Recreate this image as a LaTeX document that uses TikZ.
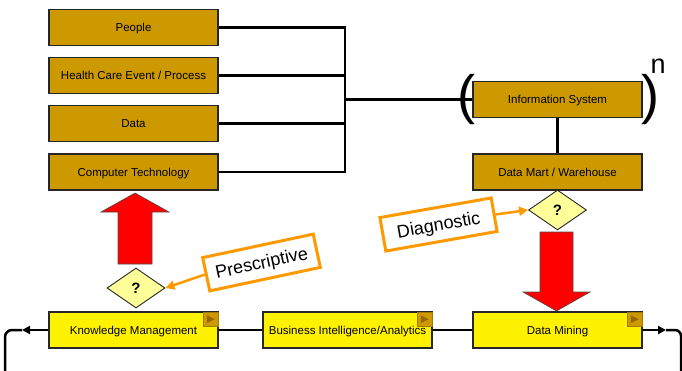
\documentclass[tikz,border=0pt]{standalone}
\usepackage{fontspec}
\setmainfont{Liberation Sans}
\usetikzlibrary{arrows.meta,shapes.geometric,calc}
\definecolor{gold}{HTML}{CC9900}
\definecolor{darkgold}{HTML}{996600}
\definecolor{lightyellow}{HTML}{FFFF99}
\definecolor{tagorange}{HTML}{FF9900}
\tikzset{
  goldbox/.style={draw=black!85, line width=1.2pt, fill=gold, minimum width=169pt,
    minimum height=36pt, inner sep=0pt, text height=8.2pt, text depth=0pt,
    font=\fontsize{11.5}{13}\selectfont},
  yellowbox/.style={goldbox, fill=yellow},
  decision/.style={diamond, draw=black!85, line width=0.9pt, fill=lightyellow,
    minimum width=58pt, minimum height=40pt, inner sep=0pt,
    font=\fontsize{15}{16}\selectfont\bfseries},
  conn/.style={draw=black, line width=2.5pt},
  tag/.style={draw=tagorange, line width=3pt, fill=white, minimum width=113pt,
    minimum height=34pt, inner sep=0pt, text height=12.9pt, text depth=0pt,
    font=\fontsize{18}{20}\selectfont},
  tagarrow/.style={draw=tagorange, line width=2.5pt,
    -{Triangle[length=9pt,width=9pt]}},
  blockarrow/.style={fill=red, draw=black!70, line width=0.6pt},
  marker/.style={fill=gold, draw=gold!80!black, line width=0.4pt,
    minimum width=15pt, minimum height=14pt, inner sep=0pt, anchor=north east},
}
\newcommand{\playmark}[1]{%
  \fill[darkgold] ($(#1.center)+(-3.5,4)$) -- ($(#1.center)+(4.5,0)$) -- ($(#1.center)+(-3.5,-4)$) -- cycle;}
\begin{document}
\begin{tikzpicture}[x=1pt,y=-1pt]
\useasboundingbox (0,0) rectangle (682,370);

% components
\node[goldbox] (people) at (133.5,27.5) {People};
\node[goldbox] (event)  at (133.5,75.5) {Health Care Event / Process};
\node[goldbox] (data)   at (133.5,123.5) {Data};
\node[goldbox] (tech)   at (133.5,172) {Computer Technology};

% information system
\node[goldbox] (infosys) at (557.5,99.5) {Information System};
\node[goldbox] (mart)    at (557.5,172) {Data Mart / Warehouse};
\node[font=\fontsize{54}{54}\selectfont, inner sep=0pt] (lparen) at (466,100) {(};
\node[font=\fontsize{54}{54}\selectfont, inner sep=0pt] (rparen) at (650,100) {)};
\node[font=\fontsize{27}{27}\selectfont, inner sep=0pt] (power) at (658,66) {n};

% fork into the information system
\coordinate (fork) at (345,99.5);
\draw[conn] (people.east) -| (fork);
\draw[conn] (event.east) -| (fork);
\draw[conn] (data.east) -| (fork);
\draw[conn] (tech.east) -| (fork);
\draw[conn] (fork) -- (infosys.west);
\draw[conn] (infosys.south) -- (mart.north);

% analytics chain
\node[yellowbox] (km)     at (133.5,330) {Knowledge Management};
\node[yellowbox] (bi)     at (347.5,330) {Business Intelligence/Analytics};
\node[yellowbox] (mining) at (557.5,330) {Data Mining};
\node[marker] (mk1) at ($(km.north east)+(-0.6,0.6)$) {};
\node[marker] (mk2) at ($(bi.north east)+(-0.6,0.6)$) {};
\node[marker] (mk3) at ($(mining.north east)+(-0.6,0.6)$) {};
\playmark{mk1}\playmark{mk2}\playmark{mk3}

\draw[conn] (km.east) -- (bi.west);
\draw[conn] (bi.east) -- (mining.west);
\coordinate (rtip) at (666,330);
\coordinate (rturn) at (681,330);
\coordinate (rdown) at (681,380);
\draw[conn, -{Triangle[length=8pt,width=8pt]}] (mining.east) -- (rtip);
\draw[conn, rounded corners=6pt] (rtip) -- (rturn) -- (rdown);
\coordinate (ltip) at (22,330);
\coordinate (lturn) at (5,330);
\coordinate (ldown) at (5,380);
\draw[conn, -{Triangle[length=8pt,width=8pt]}] (km.west) -- (ltip);
\draw[conn, rounded corners=7pt] (ltip) -- (lturn) -- (ldown);

% decisions
\node[decision] (q1) at (136,288) {?};
\node[decision] (q2) at (557.5,210) {?};

% block arrows
\coordinate (up) at (135,0);
\filldraw[blockarrow] ($(up)+(-17,264)$) -- ($(up)+(-17,212)$) -- ($(up)+(-34,212)$)
  -- ($(up)+(0,193)$) -- ($(up)+(34,212)$) -- ($(up)+(17,212)$) -- ($(up)+(17,264)$) -- cycle;
\coordinate (dn) at (556.5,0);
\filldraw[blockarrow] ($(dn)+(-16.5,232)$) -- ($(dn)+(16.5,232)$) -- ($(dn)+(16.5,292)$)
  -- ($(dn)+(33.5,292)$) -- ($(dn)+(0,311)$) -- ($(dn)+(-33.5,292)$) -- ($(dn)+(-16.5,292)$) -- cycle;

% tags
\node[tag, rotate=12] (presc) at (261.5,262.5) {Prescriptive};
\node[tag, rotate=10] (diag) at (438.5,224.5) {Diagnostic};
\draw[tagarrow] (presc.west) -- (q1.east);
\draw[tagarrow] (diag.east) -- (q2.west);
\end{tikzpicture}
\end{document}
